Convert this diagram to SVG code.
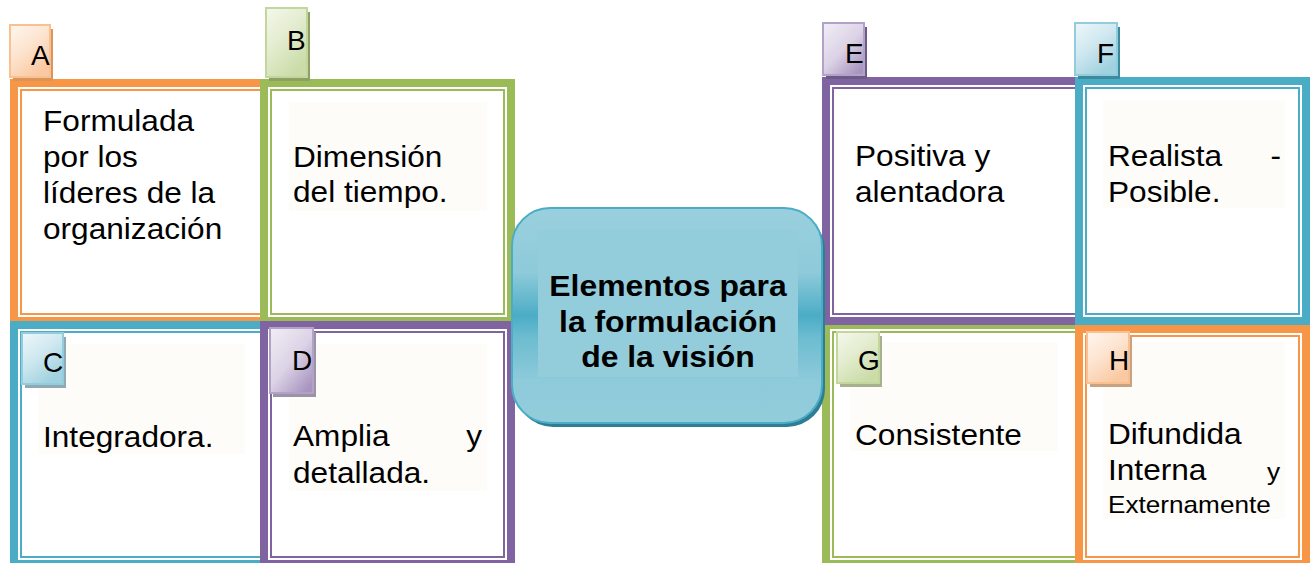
<svg xmlns="http://www.w3.org/2000/svg" width="1312" height="563" viewBox="0 0 1312 563">
<defs>
<style>
.bg{fill:#ffffff}
.fo{fill:#ffffff;stroke-width:8}
.fi{fill:none;stroke-width:2}
.or{stroke:#F79646}
.gr{stroke:#9BBB59}
.bl{stroke:#4BACC6}
.pu{stroke:#8064A2}
.soft{fill:#FEFCF8}
.t{font-family:"Liberation Sans",Arial,sans-serif;font-size:29px;fill:#000}
.s{font-family:"Liberation Sans",Arial,sans-serif;font-size:24px;fill:#000}
.l{font-family:"Liberation Sans",Arial,sans-serif;font-size:28px;fill:#000}
.c{font-family:"Liberation Sans",Arial,sans-serif;font-size:29px;font-weight:bold;fill:#000;text-anchor:middle}
.e{text-anchor:end}
</style>
<linearGradient id="gO" x1="0" y1="0" x2="0.6" y2="1"><stop offset="0" stop-color="#FEF6EF"/><stop offset="0.5" stop-color="#FDE4D0"/><stop offset="1" stop-color="#FAC9A2"/></linearGradient>
<linearGradient id="gG" x1="0" y1="0" x2="0.6" y2="1"><stop offset="0" stop-color="#F4F8EC"/><stop offset="0.5" stop-color="#E3ECCF"/><stop offset="1" stop-color="#CBDCA8"/></linearGradient>
<linearGradient id="gB" x1="0" y1="0" x2="0.6" y2="1"><stop offset="0" stop-color="#EEF7FA"/><stop offset="0.5" stop-color="#CFE8F0"/><stop offset="1" stop-color="#9FD1DF"/></linearGradient>
<linearGradient id="gP" x1="0" y1="0" x2="0.8" y2="1"><stop offset="0" stop-color="#F1EEF5"/><stop offset="0.55" stop-color="#DCD3E6"/><stop offset="1" stop-color="#A995C0"/></linearGradient>
<linearGradient id="gC" x1="0" y1="0" x2="0" y2="1">
<stop offset="0" stop-color="#9AD0DE"/><stop offset="0.3" stop-color="#8ECADA"/><stop offset="0.45" stop-color="#5DB4CB"/><stop offset="0.5" stop-color="#4BACC6"/><stop offset="0.6" stop-color="#6CBCD0"/><stop offset="0.8" stop-color="#8DCADA"/><stop offset="1" stop-color="#93CDDC"/>
</linearGradient>
</defs>
<rect class="bg" x="0" y="0" width="1312" height="563"/>

<g id="frame-A"><rect class="fo or" x="14" y="83" width="254" height="238"/><rect class="fi or" x="21" y="90" width="240" height="224"/></g>
<g id="frame-B"><rect class="fo gr" x="264" y="83" width="247" height="238"/><rect class="fi gr" x="271" y="90" width="233" height="224"/><rect class="soft" x="289" y="102" width="198" height="109"/></g>
<g id="frame-C"><rect class="fo bl" x="14" y="325" width="254" height="239"/><rect class="fi bl" x="21" y="332" width="240" height="225"/><rect class="soft" x="38" y="344" width="207" height="110"/></g>
<g id="frame-D"><rect class="fo pu" x="264" y="325" width="247" height="239"/><rect class="fi pu" x="271" y="332" width="233" height="225"/><rect class="soft" x="289" y="344" width="198" height="147"/></g>
<g id="frame-G"><rect class="fo gr" x="826" y="325" width="257" height="239"/><rect class="fi gr" x="833" y="332" width="243" height="225"/><rect class="soft" x="850" y="342" width="208" height="109"/></g>
<g id="frame-H"><rect class="fo or" x="1079" y="329" width="227" height="235"/><rect class="fi or" x="1086" y="336" width="213" height="221"/><rect class="soft" x="1103" y="342" width="182" height="177"/></g>
<g id="frame-E"><rect class="fo pu" x="826" y="81" width="257" height="240"/><rect class="fi pu" x="833" y="88" width="243" height="226"/></g>
<g id="frame-F"><rect class="fo bl" x="1079" y="81" width="227" height="240"/><rect class="fi bl" x="1086" y="88" width="213" height="226"/><rect class="soft" x="1103" y="100" width="182" height="108"/></g>

<g id="node-A">
<rect x="13" y="29" width="40" height="52" fill="#D9955C"/>
<rect x="10" y="25" width="40" height="52" fill="url(#gO)" stroke="#FAC090" stroke-width="2"/>
<text class="l" x="31" y="65">A</text>
<text class="t" transform="matrix(1.09,0,0,1,43,131)">Formulada</text>
<text class="t" transform="matrix(1.09,0,0,1,43,167)">por los</text>
<text class="t" transform="matrix(1.09,0,0,1,43,203)">líderes de la</text>
<text class="t" transform="matrix(1.09,0,0,1,43,239)">organización</text>
</g>
<g id="node-B">
<rect x="269" y="12" width="41" height="69" fill="#8FA067"/>
<rect x="266" y="8" width="41" height="69" fill="url(#gG)" stroke="#C3D69B" stroke-width="2"/>
<text class="l" x="287" y="50">B</text>
<text class="t" transform="matrix(1.09,0,0,1,293,167)">Dimensión</text>
<text class="t" transform="matrix(1.09,0,0,1,293,202)">del tiempo.</text>
</g>
<g id="node-C">
<rect x="25" y="337" width="41" height="51" fill="#8FAAB2"/>
<rect x="22" y="333" width="41" height="51" fill="url(#gB)" stroke="#93CDDD" stroke-width="2"/>
<text class="l" x="43" y="372">C</text>
<text class="t" transform="matrix(1.09,0,0,1,43,447)">Integradora.</text>
</g>
<g id="node-D">
<rect x="273" y="332" width="43" height="65" fill="#9B93A6"/>
<rect x="270" y="328" width="43" height="65" fill="url(#gP)" stroke="#B3A2C7" stroke-width="2"/>
<text class="l" x="292" y="370">D</text>
<text class="t" transform="matrix(1.09,0,0,1,293,446)">Amplia</text>
<text class="t e" transform="matrix(1.09,0,0,1,482,446)">y</text>
<text class="t" transform="matrix(1.09,0,0,1,293,483)">detallada.</text>
</g>
<g id="node-E">
<rect x="826" y="27" width="41" height="52" fill="#6E5A86"/>
<rect x="823" y="23" width="41" height="52" fill="url(#gP)" stroke="#B3A2C7" stroke-width="2"/>
<text class="l" x="845" y="63">E</text>
<text class="t" transform="matrix(1.09,0,0,1,855,166)">Positiva y</text>
<text class="t" transform="matrix(1.09,0,0,1,855,202)">alentadora</text>
</g>
<g id="node-F">
<rect x="1078" y="27" width="42" height="52" fill="#3C8A9E"/>
<rect x="1075" y="23" width="42" height="52" fill="url(#gB)" stroke="#93CDDD" stroke-width="2"/>
<text class="l" x="1097" y="63">F</text>
<text class="t" transform="matrix(1.09,0,0,1,1108,166)">Realista</text>
<text class="t e" transform="matrix(1.09,0,0,1,1281,166)">-</text>
<text class="t" transform="matrix(1.09,0,0,1,1108,202)">Posible.</text>
</g>
<g id="node-G">
<rect x="840" y="336" width="42" height="51" fill="#A8B18E"/>
<rect x="837" y="332" width="42" height="51" fill="url(#gG)" stroke="#C3D69B" stroke-width="2"/>
<text class="l" x="858" y="370">G</text>
<text class="t" transform="matrix(1.09,0,0,1,855,445)">Consistente</text>
</g>
<g id="node-H">
<rect x="1090" y="336" width="42" height="51" fill="#C9A281"/>
<rect x="1087" y="332" width="42" height="51" fill="url(#gO)" stroke="#FAC090" stroke-width="2"/>
<text class="l" x="1109" y="370">H</text>
<text class="t" transform="matrix(1.09,0,0,1,1108,444)">Difundida</text>
<text class="t" transform="matrix(1.09,0,0,1,1108,480)">Interna</text>
<text class="s e" transform="matrix(1.09,0,0,1,1280,480)">y</text>
<text class="s" transform="matrix(1.09,0,0,1,1108,513)">Externamente</text>
</g>

<g id="node-center">
<rect x="515" y="212" width="310" height="215" rx="38" fill="#2E7D93"/>
<rect x="512" y="208" width="310" height="215" rx="38" fill="url(#gC)" stroke="#4BACC6" stroke-width="2"/>
<rect x="538" y="230" width="260" height="147" fill="#93CDDC"/>
<text class="c" transform="matrix(1.1,0,0,1,668,296)">Elementos para</text>
<text class="c" transform="matrix(1.1,0,0,1,668,332)">la formulación</text>
<text class="c" transform="matrix(1.1,0,0,1,668,367)">de la visión</text>
</g>
<g id="connectors"></g>
</svg>
